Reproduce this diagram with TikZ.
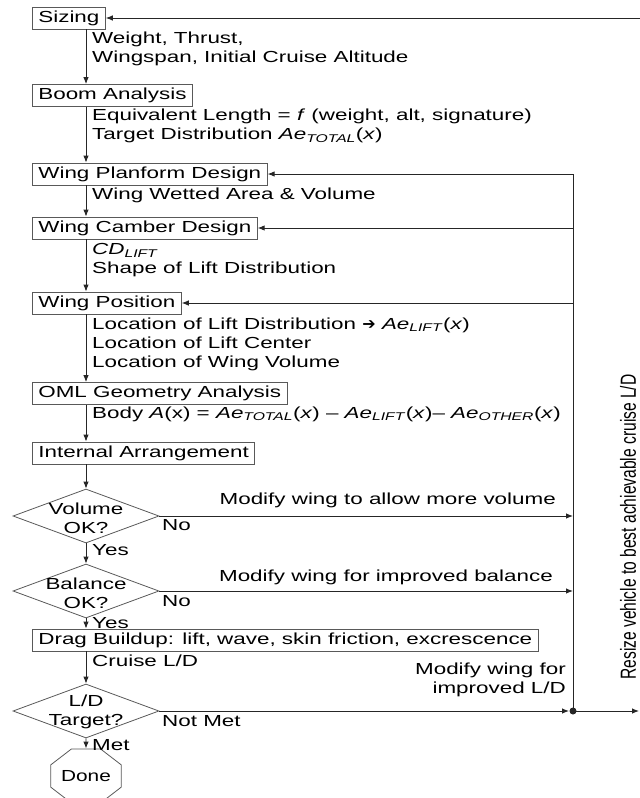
\documentclass[tikz,border=0pt]{standalone}
\usepackage{fontspec}
\setmainfont[FakeStretch=1.4]{Liberation Sans}
\newfontfamily\plainfont{Liberation Sans}
\newfontfamily\symfont{DejaVu Sans}
\usetikzlibrary{shapes.geometric,arrows.meta}
\newcommand\aesub[1]{\textit{Ae}\textsubscript{\textit{#1}}}

\tikzset{
  >={Latex[length=7pt,width=5.5pt]},
  stepbox/.style={draw=black!65, line width=0.8pt, anchor=west, inner xsep=6pt, minimum height=22pt, fill=white},
  note/.style={anchor=west, inner sep=0pt, align=left},
  decision/.style={diamond, draw=black!65, line width=0.8pt, minimum width=146pt, minimum height=54pt, inner sep=0pt},
  dtext/.style={align=center, inner sep=0pt},
  flow/.style={black!85, line width=0.9pt},
}

\begin{document}
\begin{tikzpicture}[x=1pt, y=-1pt, font=\fontsize{16}{19}\selectfont]
\useasboundingbox (0,0) rectangle (640,798);
\coordinate (spine) at (86,0);
\coordinate (rail) at (573,0);

% process steps
\node[stepbox] (sizing) at (32,18) {Sizing};
\node[stepbox] (boom) at (32,95.5) {Boom Analysis};
\node[stepbox] (planform) at (32,174) {Wing Planform Design};
\node[stepbox] (camber) at (32,228) {Wing Camber Design};
\node[stepbox] (position) at (32,303) {Wing Position};
\node[stepbox] (oml) at (32,393.5) {OML Geometry Analysis};
\node[stepbox] (internal) at (32,453) {Internal Arrangement};
\node[decision] (volume) at (86,516) {};
\node[decision] (balance) at (86,591) {};
\node[stepbox] (drag) at (32,640) {Drag Buildup: lift, wave, skin friction, excrescence};
\node[decision] (ldtarget) at (86,711) {};
\node[regular polygon, regular polygon sides=8, draw=black!65, line width=0.8pt, minimum size=47.6pt, inner sep=0pt, xscale=1.3, font=\fontsize{16}{19}\plainfont] (done) at (86,776) {Done};

\node[dtext] (volumetext) at (86,518) {Volume\\OK?};
\node[dtext] (balancetext) at (86,593) {Balance\\OK?};
\node[dtext] (ldtext) at (86,711.5) {L/D\\Target?};

% outputs of each step
\node[note] (sizingout) at (92,49) {Weight, Thrust,\\Wingspan, Initial Cruise Altitude};
\node[note] (boomout) at (92,126) {Equivalent Length = \textit{f} (weight, alt, signature)\\Target Distribution \aesub{TOTAL}(\textit{x})};
\node[note] (planformout) at (92,195) {Wing Wetted Area \& Volume};
\node[note] (camberout) at (92,260) {\textit{CD}\textsubscript{\textit{LIFT}}\\Shape of Lift Distribution};
\node[note] (positionout) at (92,344) {Location of Lift Distribution {\symfont ➔} \aesub{LIFT}(\textit{x})\\Location of Lift Center\\Location of Wing Volume};
\node[note] (omlout) at (92,414) {Body \textit{A}(x) = \aesub{TOTAL}(\textit{x}) – \aesub{LIFT}(\textit{x})– \aesub{OTHER}(\textit{x})};
\node[note] (dragout) at (92,661) {Cruise L/D};

\node[note] (volyes) at (92,550) {Yes};
\node[note] (volno) at (162,525) {No};
\node[note] (balyes) at (92,623) {Yes};
\node[note] (balno) at (162,601) {No};
\node[note] (ldmet) at (92,745) {Met};
\node[note] (ldnotmet) at (162,721) {Not Met};

\node[anchor=east, inner sep=0pt] (volmod) at (556,500) {Modify wing to allow more volume};
\node[anchor=east, inner sep=0pt] (balmod) at (553,577) {Modify wing for improved balance};
\node[anchor=east, align=right, inner sep=0pt] (ldmod) at (566,680) {Modify wing for\\improved L/D};
\node[font=\fontsize{15.6}{18}\plainfont, xscale=1.4, rotate=90, inner sep=0pt] (resize) at (628,527) {Resize vehicle to best achievable cruise L/D};

% main chain
\draw[flow,->] (sizing.south -| spine) -- (boom.north -| spine);
\draw[flow,->] (boom.south -| spine) -- (planform.north -| spine);
\draw[flow,->] (planform.south -| spine) -- (camber.north -| spine);
\draw[flow,->] (camber.south -| spine) -- (position.north -| spine);
\draw[flow,->] (position.south -| spine) -- (oml.north -| spine);
\draw[flow,->] (oml.south -| spine) -- (internal.north -| spine);
\draw[flow,->] (internal.south -| spine) -- (volume.north);
\draw[flow,->] (volume.south) -- (balance.north);
\draw[flow,->] (balance.south) -- (drag.north -| spine);
\draw[flow,->] (drag.south -| spine) -- (ldtarget.north);
\draw[flow,->] (ldtarget.south) -- (done.north);

% loops back
\coordinate (topin) at (640,18);
\coordinate (dot) at (573,711);
\coordinate (out) at (639,711);
\draw[flow,->] (topin) -- (sizing.east);
\draw[flow] (planform.east -| rail) -- (dot);
\draw[flow,->] (planform.east -| rail) -- (planform.east);
\draw[flow,->] (camber.east -| rail) -- (camber.east);
\draw[flow,->] (position.east -| rail) -- (position.east);
\draw[flow,->] (volume.east) -- (volume.east -| rail);
\draw[flow,->] (balance.east) -- (balance.east -| rail);
\draw[flow,->,shorten >=4pt] (ldtarget.east) -- (dot);
\fill[black!85] (dot) circle[radius=3.5pt];
\draw[flow,->] (dot) -- (out);
\end{tikzpicture}
\end{document}
